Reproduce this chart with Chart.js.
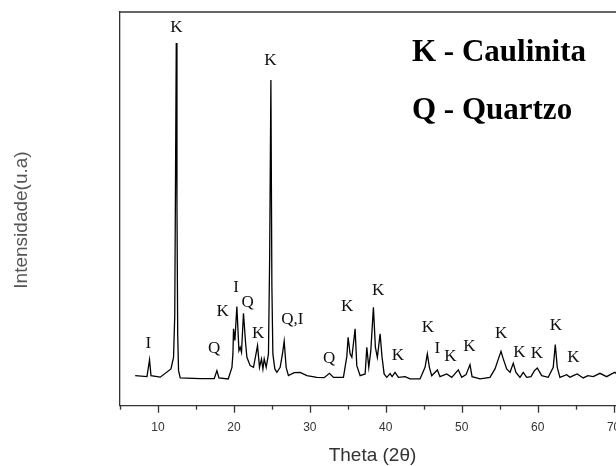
<!DOCTYPE html>
<html>
<head>
<meta charset="utf-8">
<script src="https://cdn.jsdelivr.net/npm/chart.js@4.4.1/dist/chart.umd.min.js"></script>
<style>
  html, body { margin: 0; padding: 0; background: #fff; overflow: hidden; }
  #wrap { width: 640px; height: 466px; }
</style>
</head>
<body>
<div id="wrap"><canvas id="xrd"></canvas></div>
<script>
// Diffractogram: 2theta (deg) and intensity (a.u.)
const twoTheta = [
  7.0, 8.55, 8.89, 9.08, 10.3, 11.71, 12.05, 12.21, 12.32, 12.41, 12.5, 12.6, 12.71, 12.93,
  15.57, 17.41, 17.76, 18.03, 19.25, 19.74, 19.87, 19.95, 20.13, 20.39, 20.66, 20.83, 21.0,
  21.26, 21.53, 21.71, 22.14, 22.58, 23.11, 23.37, 23.63, 23.82, 23.99, 24.25, 24.55, 24.71,
  24.87, 25.0, 25.13, 25.39, 25.66, 26.09, 26.42, 26.62, 26.88, 27.18, 27.93, 28.72, 29.61,
  30.92, 31.88, 32.58, 33.11, 34.42, 34.87, 35.04, 35.3, 35.53, 35.96, 36.18, 36.62, 37.28,
  37.5, 37.76, 38.03, 38.37, 38.63, 38.89, 39.25, 39.51, 39.78, 40.13, 40.57, 40.83, 41.22,
  41.66, 42.54, 43.2, 44.51, 45.17, 45.47, 45.74, 46.05, 46.79, 47.14, 48.03, 48.68, 49.55,
  50.0, 50.57, 51.09, 51.36, 52.41, 53.72, 54.38, 54.84, 55.17, 55.47, 55.92, 56.36, 56.79,
  57.14, 57.67, 58.1, 58.55, 59.12, 59.58, 59.95, 60.53, 61.39, 62.05, 62.32, 62.58, 62.93,
  63.82, 64.25, 64.69, 65.21, 66.0, 66.62, 67.32, 68.2, 69.08, 69.74, 70.17, 70.8
];
const intensity = [
  300, 290, 457, 300, 285, 367, 483, 900, 2400, 3620, 2000, 700, 350, 277,
  270, 270, 350, 277, 267, 383, 517, 767, 650, 990, 550, 583, 533,
  923, 633, 483, 400, 383, 600, 383, 467, 367, 467, 383, 517, 1500,
  3250, 1200, 517, 367, 333, 383, 530, 643, 383, 300, 330, 333, 300,
  283, 280, 323, 283, 283, 492, 683, 517, 483, 767, 400, 300, 317,
  583, 383, 550, 983, 583, 483, 717, 483, 317, 283, 320, 290, 333,
  283, 290, 267, 267, 383, 517, 383, 300, 357, 290, 317, 283, 357,
  283, 310, 410, 290, 267, 283, 367, 470, 543, 467, 367, 333, 423,
  333, 283, 333, 283, 290, 350, 377, 300, 283, 383, 610, 383, 283,
  310, 283, 300, 317, 277, 300, 290, 323, 290, 317, 333, 290
];

// Phase labels above the peaks
const peakText = ['K', 'K', 'I', 'Q', 'K', 'I', 'Q', 'K', 'Q,I', 'Q', 'K', 'K', 'K', 'K', 'I', 'K', 'K', 'K', 'K', 'K', 'K', 'K'];
const peakX = [12.41, 24.8, 8.73, 17.4, 18.5, 20.3, 21.8, 23.2, 27.7, 32.55, 34.9, 39.0, 41.6, 45.55, 46.8, 48.5, 51.0, 55.2, 57.6, 59.9, 62.4, 64.7];
const peakY = [3770, 3450, 620, 570, 940, 1180, 1030, 720, 860, 470, 990, 1150, 500, 780, 570, 490, 590, 720, 530, 520, 800, 480];

const legendLines = ['K - Caulinita', 'Q - Quartzo'];

const xTickStep = 5;
const xMin = 5;
const xMax = 71.5;
const yMax = 3930;

const axisColor = '#333';
const sansFont = 'Arial, "Liberation Sans", sans-serif';

// Draws the top frame line, the major/minor ticks and all text labels
const decorPlugin = {
  id: 'decor',
  afterDraw(chart) {
    const { ctx, chartArea } = chart;
    const xs = chart.scales.x;
    const ys = chart.scales.y;

    ctx.save();
    ctx.strokeStyle = axisColor;
    ctx.lineWidth = 1.3;
    ctx.beginPath();
    ctx.moveTo(chartArea.left, chartArea.top);
    ctx.lineTo(chartArea.right, chartArea.top);
    ctx.stroke();

    xs.ticks.forEach(t => {
      const px = Math.round(xs.getPixelForValue(t.value)) + 0.5;
      const len = t.value % 10 === 0 ? 7 : 4;
      ctx.beginPath();
      ctx.moveTo(px, chartArea.bottom);
      ctx.lineTo(px, chartArea.bottom + len);
      ctx.stroke();
    });

    // y axis title, a little below the middle of the axis as in the original
    ctx.save();
    ctx.translate(22, 220);
    ctx.rotate(-Math.PI / 2);
    ctx.fillStyle = '#555';
    ctx.font = '19px ' + sansFont;
    ctx.textAlign = 'center';
    ctx.textBaseline = 'middle';
    ctx.fillText('Intensidade(u.a)', 0, 0);
    ctx.restore();

    ctx.fillStyle = '#111';
    ctx.font = '17px "Liberation Serif", "Times New Roman", serif';
    ctx.textAlign = 'center';
    ctx.textBaseline = 'middle';
    peakText.forEach((txt, i) => {
      ctx.fillText(txt, xs.getPixelForValue(peakX[i]), ys.getPixelForValue(peakY[i]));
    });

    ctx.fillStyle = '#000';
    ctx.font = 'bold 31px "Liberation Serif", "Times New Roman", serif';
    ctx.textAlign = 'left';
    ctx.textBaseline = 'alphabetic';
    ctx.fillText(legendLines[0], 412, 61);
    ctx.fillText(legendLines[1], 412, 119);
    ctx.restore();
  }
};

new Chart(document.getElementById('xrd'), {
  type: 'line',
  data: {
    datasets: [{
      data: twoTheta.map((x, i) => ({ x, y: intensity[i] })),
      borderColor: '#000',
      borderWidth: 1.3,
      pointRadius: 0,
      tension: 0,
      fill: false
    }]
  },
  options: {
    responsive: true,
    maintainAspectRatio: false,
    animation: false,
    events: [],
    layout: { padding: { top: 12, right: 15, left: 0, bottom: 0 } },
    plugins: {
      legend: { display: false },
      tooltip: { enabled: false }
    },
    scales: {
      x: {
        type: 'linear',
        min: xMin,
        max: xMax,
        afterFit(scale) { scale.height = 60.3; },
        grid: { display: false, drawTicks: false },
        border: { display: true, color: axisColor, width: 1.3 },
        ticks: {
          stepSize: xTickStep,
          includeBounds: false,
          padding: 15,
          color: '#333',
          font: { family: sansFont, size: 12 },
          callback: v => (v % 10 === 0 ? v : ''),
          maxRotation: 0,
          autoSkip: false
        },
        title: {
          display: true,
          text: 'Theta (2θ)',
          color: '#333',
          font: { family: sansFont, size: 19 },
          padding: { top: 0, bottom: -1 }
        }
      },
      y: {
        min: 0,
        max: yMax,
        afterFit(scale) { scale.width = 120; },
        grid: { display: false, drawTicks: false },
        border: { display: true, color: axisColor, width: 1.3 },
        ticks: { display: false },
        title: { display: false }
      }
    }
  },
  plugins: [decorPlugin]
});
</script>
</body>
</html>
